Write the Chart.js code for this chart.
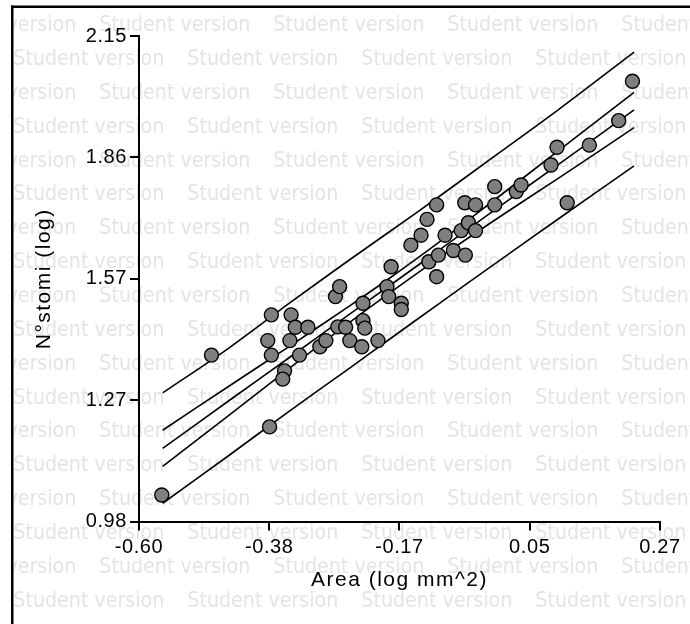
<!DOCTYPE html>
<html><head><meta charset="utf-8">
<script src="https://cdn.jsdelivr.net/npm/chart.js@4"></script>
<style>html,body{margin:0;padding:0;background:#fff}canvas{display:block}</style>
</head><body>
<canvas id="c" width="690" height="624"></canvas>
<script>
// Observed points: x = Area (log mm^2), y = N°stomi (log)
const areaLog = [-0.562,-0.479,-0.382,-0.379,-0.385,-0.379,-0.346,-0.348,-0.339,-0.318,
  -0.332,-0.357,-0.360,-0.298,-0.288,-0.272,-0.265,-0.268,-0.255,-0.248,
  -0.228,-0.226,-0.223,-0.201,-0.226,-0.186,-0.183,-0.179,-0.162,-0.162,
  -0.146,-0.129,-0.119,-0.116,-0.103,-0.103,-0.100,-0.089,-0.075,-0.062,
  -0.055,-0.056,-0.050,-0.038,-0.038,-0.006,-0.006,0.030,0.038,0.088,
  0.098,0.115,0.152,0.201,0.224];
const stomiLog = [1.044,1.381,1.208,1.478,1.416,1.381,1.478,1.416,1.448,1.448,
  1.381,1.343,1.323,1.401,1.416,1.522,1.546,1.449,1.448,1.416,
  1.401,1.464,1.446,1.416,1.506,1.546,1.522,1.594,1.506,1.491,
  1.646,1.670,1.708,1.606,1.570,1.743,1.622,1.670,1.633,1.681,
  1.622,1.748,1.700,1.743,1.681,1.787,1.743,1.775,1.791,1.839,
  1.882,1.748,1.887,1.946,2.041];

// Fitted line and bands
const lineX      = [-0.5605,-0.45,-0.35,-0.25,-0.18,-0.10,0.00,0.10,0.2267];
const regY       = [1.156,1.271,1.374,1.478,1.550,1.633,1.737,1.840,1.972];
const confUpperY = [1.200,1.306,1.401,1.498,1.568,1.652,1.762,1.873,2.014];
const confLowerY = [1.113,1.236,1.348,1.458,1.532,1.614,1.712,1.807,1.929];
const predUpperY = [1.290,1.398,1.505,1.609,1.680,1.762,1.867,1.972,2.111];
const predLowerY = [1.024,1.139,1.245,1.348,1.421,1.504,1.607,1.709,1.837];

const xTickValues = [-0.60,-0.3825,-0.165,0.0525,0.27];
const xTickLabels = ['-0.60','-0.38','-0.17','0.05','0.27'];
const yTickValues = [0.98,1.2725,1.565,1.8575,2.15];
const yTickLabels = ['0.98','1.27','1.57','1.86','2.15'];

const xTitle = 'Area (log mm^2)';
const yTitle = 'N°stomi (log)';
const watermarkText = 'Student version';

const pts = areaLog.map((x,i)=>({x:x,y:stomiLog[i]}));
const mkLine = ys => lineX.map((x,i)=>({x:x,y:ys[i]}));

const lineStyle = {showLine:true,pointRadius:0,borderColor:'#000',borderWidth:1.6,tension:0.35,fill:false};
const FONT = "'Liberation Sans', Arial, sans-serif";

const decor = {
  id:'decor',
  beforeDraw(chart){
    const ctx = chart.ctx;
    ctx.save();
    ctx.beginPath(); ctx.rect(13.5,8.5,700,700); ctx.clip();
    ctx.font = "21.5px 'DejaVu Sans Condensed','DejaVu Sans',sans-serif";
    const w = ctx.measureText(watermarkText).width;
    const sx = 151 / w;
    ctx.fillStyle = '#e4e4e4';
    ctx.textBaseline = 'alphabetic';
    ctx.textAlign = 'left';
    for (let k=0;k<20;k++){
      const y = 31.2 + 33.85*k;
      const start = (k%2===0) ? -74.7 : 13.3;
      for (let x=start; x<700; x+=174){
        ctx.save(); ctx.translate(x,y); ctx.scale(sx,1); ctx.fillText(watermarkText,0,0); ctx.restore();
      }
    }
    ctx.restore();
    ctx.letterSpacing = '1.5px';
  },
  afterDatasetsDraw(chart){ chart.ctx.letterSpacing = '0.6px'; },
  afterDraw(chart){
    const ctx = chart.ctx;
    ctx.letterSpacing = '0px';
    ctx.fillStyle = '#000';
    ctx.fillRect(11,5.5,679,2.5);
    ctx.fillRect(11,5.5,2.5,619);
  }
};

new Chart(document.getElementById('c'), {
  type:'scatter',
  data:{datasets:[
    {data:pts,pointRadius:7,pointHoverRadius:7,backgroundColor:'#7f7f7f',borderColor:'#000',borderWidth:1.4,showLine:false},
    Object.assign({data:mkLine(regY)},lineStyle),
    Object.assign({data:mkLine(confUpperY)},lineStyle),
    Object.assign({data:mkLine(confLowerY)},lineStyle),
    Object.assign({data:mkLine(predUpperY)},lineStyle),
    Object.assign({data:mkLine(predLowerY)},lineStyle)
  ]},
  options:{
    responsive:false, animation:false, devicePixelRatio:1,
    layout:{padding:{left:0,top:36,right:30,bottom:0}},
    plugins:{legend:{display:false},tooltip:{enabled:false}},
    scales:{
      x:{type:'linear',min:-0.60,max:0.27,
        afterBuildTicks:s=>{s.ticks=xTickValues.map(v=>({value:v}));},
        afterFit:s=>{s.height=102.5;},
        ticks:{z:1,color:'#000',font:{family:FONT,size:20},padding:5,maxRotation:0,minRotation:0,autoSkip:false,
          callback:(v,i)=>xTickLabels[i]},
        grid:{drawOnChartArea:false,drawTicks:true,tickLength:9,color:'#000',lineWidth:2},
        border:{display:true,color:'#000',width:2},
        title:{display:true,text:xTitle,color:'#000',font:{family:FONT,size:21,lineHeight:1.2},padding:{top:0,bottom:31}}
      },
      y:{type:'linear',min:0.98,max:2.15,
        afterBuildTicks:s=>{s.ticks=yTickValues.map(v=>({value:v}));},
        afterFit:s=>{s.width=139;},
        ticks:{z:1,color:'#000',font:{family:FONT,size:20},padding:3,autoSkip:false,
          callback:(v,i)=>yTickLabels[i]},
        grid:{drawOnChartArea:false,drawTicks:true,tickLength:9,color:'#000',lineWidth:2},
        border:{display:true,color:'#000',width:2},
        title:{display:true,text:yTitle,color:'#000',font:{family:FONT,size:21,lineHeight:1.2},padding:{top:32,bottom:0}}
      }
    }
  },
  plugins:[decor]
});
</script>
</body></html>
